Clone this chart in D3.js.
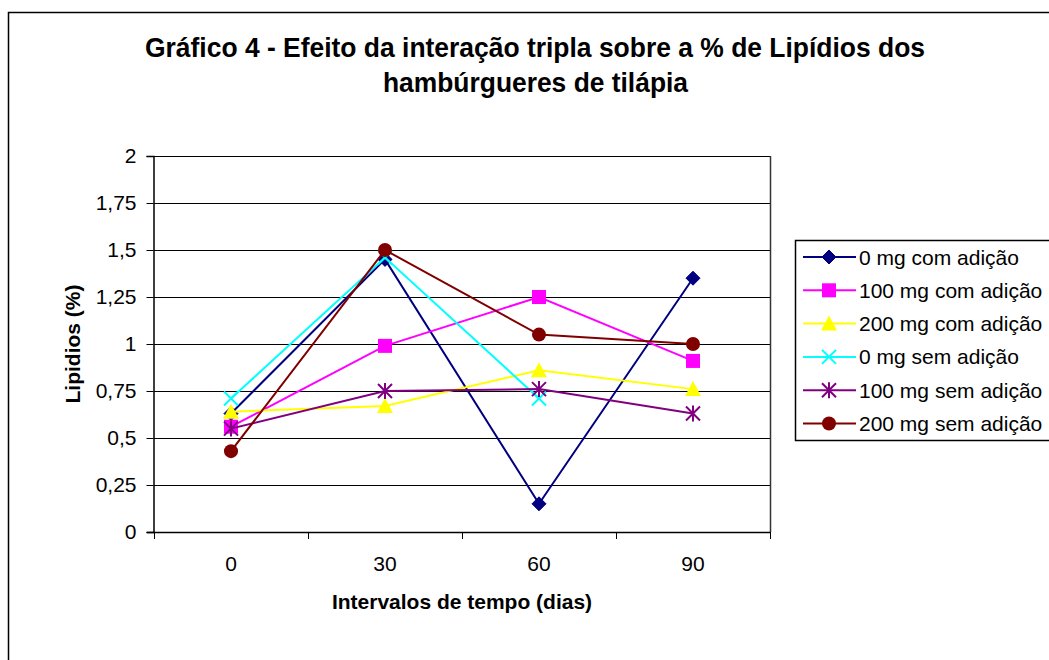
<!DOCTYPE html>
<html lang="pt">
<head>
<meta charset="utf-8">
<script src="https://cdn.jsdelivr.net/npm/d3@7"></script>
<style>
  html, body { margin: 0; padding: 0; background: #fff; }
  svg { display: block; font-family: Arial, "Liberation Sans", sans-serif; }
</style>
</head>
<body>
<svg id="chart" width="1049" height="660"></svg>
<script>
// Intervalos de tempo (dias)
const categories = ["0", "30", "60", "90"];

// % de lipídios por tratamento
const seriesNames = [
  "0 mg com adição",
  "100 mg com adição",
  "200 mg com adição",
  "0 mg sem adição",
  "100 mg sem adição",
  "200 mg sem adição"
];
const mg0Com   = [0.63, 1.45, 0.15, 1.35];
const mg100Com = [0.56, 0.99, 1.25, 0.91];
const mg200Com = [0.64, 0.67, 0.86, 0.76];
const mg0Sem   = [0.71, 1.46, 0.71, null];
const mg100Sem = [0.55, 0.75, 0.76, 0.63];
const mg200Sem = [0.43, 1.50, 1.05, 1.00];

const yTicks = [0, 0.25, 0.5, 0.75, 1, 1.25, 1.5, 1.75, 2];

const seriesValues = [mg0Com, mg100Com, mg200Com, mg0Sem, mg100Sem, mg200Sem];
const colors = ["#000080", "#FF00FF", "#FFFF00", "#00FFFF", "#800080", "#800000"];
const markers = ["diamond", "square", "triangle", "x", "asterisk", "circle"];

const svg = d3.select("#chart");

// Outer chart frame (only top and left edges fall inside the canvas)
svg.append("path")
  .attr("d", "M8.5,660 V12.5 H1049")
  .attr("fill", "none").attr("stroke", "#000").attr("stroke-width", 1.5);

// Title (narrow, tall glyphs)
const title = svg.append("text")
  .attr("text-anchor", "middle")
  .attr("font-weight", "bold")
  .attr("font-size", 28)
  .attr("fill", "#000");
title.append("tspan").attr("x", 535).attr("y", 57)
  .attr("textLength", 780).attr("lengthAdjust", "spacingAndGlyphs")
  .text("Gráfico 4 - Efeito da interação tripla sobre a % de Lipídios dos");
title.append("tspan").attr("x", 535.5).attr("y", 92)
  .attr("textLength", 305).attr("lengthAdjust", "spacingAndGlyphs")
  .text("hambúrgueres de tilápia");

// Plot area
const plot = { left: 154, right: 770, top: 156, bottom: 532 };
const x = d3.scaleBand().domain(categories).range([plot.left, plot.right]);
const y = d3.scaleLinear().domain([0, 2]).range([plot.bottom, plot.top]);
const cx = c => x(c) + x.bandwidth() / 2;

// Horizontal gridlines
svg.append("g").selectAll("line")
  .data(yTicks)
  .join("line")
  .attr("x1", plot.left).attr("x2", plot.right)
  .attr("y1", d => Math.round(y(d)) + 0.5).attr("y2", d => Math.round(y(d)) + 0.5)
  .attr("stroke", "#000").attr("stroke-width", 1);

// Right edge of plot area
svg.append("line")
  .attr("x1", plot.right + 0.5).attr("x2", plot.right + 0.5)
  .attr("y1", plot.top).attr("y2", plot.bottom)
  .attr("stroke", "#333").attr("stroke-width", 1.5);

// Y axis
const fmt = d => String(d).replace(".", ",");
const yAxis = svg.append("g")
  .attr("transform", `translate(${plot.left - 0.5},0)`)
  .call(d3.axisLeft(y).tickValues(yTicks).tickFormat(fmt).tickSize(7).tickPadding(10));
yAxis.select(".domain").attr("stroke", "#000").attr("stroke-width", 1.5);
yAxis.selectAll(".tick line").attr("stroke", "#000");
yAxis.selectAll(".tick text")
  .attr("font-size", 21).attr("fill", "#000")
  .attr("font-family", "Arial, 'Liberation Sans', sans-serif");

// X axis: ticks at category boundaries, labels at centres
const xAxis = svg.append("g");
xAxis.append("line")
  .attr("x1", plot.left - 7).attr("x2", plot.right)
  .attr("y1", plot.bottom + 0.5).attr("y2", plot.bottom + 0.5)
  .attr("stroke", "#000").attr("stroke-width", 1.5);
const bounds = categories.map(c => x(c)).concat([x(categories[categories.length - 1]) + x.bandwidth()]);
xAxis.selectAll("line.tick")
  .data(bounds)
  .join("line").attr("class", "tick")
  .attr("x1", d => Math.round(d) + 0.5).attr("x2", d => Math.round(d) + 0.5)
  .attr("y1", plot.bottom).attr("y2", plot.bottom + 7)
  .attr("stroke", "#000");
xAxis.selectAll("text")
  .data(categories)
  .join("text")
  .attr("x", d => cx(d)).attr("y", 571)
  .attr("text-anchor", "middle")
  .attr("font-size", 21).attr("fill", "#000")
  .text(d => d);

// Axis titles
svg.append("text")
  .attr("x", 462).attr("y", 609)
  .attr("text-anchor", "middle")
  .attr("font-weight", "bold").attr("font-size", 21)
  .text("Intervalos de tempo (dias)");
svg.append("text")
  .attr("transform", `translate(80,${(plot.top + plot.bottom) / 2}) rotate(-90)`)
  .attr("text-anchor", "middle")
  .attr("font-weight", "bold").attr("font-size", 21)
  .text("Lipidios (%)");

// Marker drawing
function drawMarker(g, type, color, px, py) {
  const s = 7;
  if (type === "diamond") {
    g.append("path").attr("d", `M${px},${py - s} L${px + s},${py} L${px},${py + s} L${px - s},${py} Z`)
      .attr("fill", color).attr("stroke", color);
  } else if (type === "square") {
    g.append("rect").attr("x", px - s).attr("y", py - s).attr("width", 2 * s).attr("height", 2 * s)
      .attr("fill", color);
  } else if (type === "triangle") {
    g.append("path").attr("d", `M${px},${py - s - 1} L${px + s + 1},${py + s} L${px - s - 1},${py + s} Z`)
      .attr("fill", color);
  } else if (type === "x") {
    g.append("path").attr("d", `M${px - s},${py - s} L${px + s},${py + s} M${px - s},${py + s} L${px + s},${py - s}`)
      .attr("stroke", color).attr("stroke-width", 2).attr("fill", "none");
  } else if (type === "asterisk") {
    g.append("path").attr("d", `M${px - s},${py - s} L${px + s},${py + s} M${px - s},${py + s} L${px + s},${py - s} M${px},${py - s - 1} L${px},${py + s + 1}`)
      .attr("stroke", color).attr("stroke-width", 2).attr("fill", "none");
  } else if (type === "circle") {
    g.append("circle").attr("cx", px).attr("cy", py).attr("r", s).attr("fill", color);
  }
}

// Series lines and markers
const line = d3.line()
  .defined(d => d.v !== null)
  .x(d => cx(d.c))
  .y(d => y(d.v));

seriesValues.forEach((vals, i) => {
  const pts = categories.map((c, j) => ({ c, v: vals[j] }));
  const g = svg.append("g");
  g.append("path")
    .datum(pts)
    .attr("d", line)
    .attr("fill", "none")
    .attr("stroke", colors[i])
    .attr("stroke-width", 2);
  pts.filter(p => p.v !== null).forEach(p => drawMarker(g, markers[i], colors[i], cx(p.c), y(p.v)));
});

// Legend
const legend = svg.append("g");
legend.append("rect")
  .attr("x", 795.5).attr("y", 240.5).attr("width", 300).attr("height", 200)
  .attr("fill", "#fff").attr("stroke", "#000").attr("stroke-width", 1.5);
seriesNames.forEach((name, i) => {
  const ly = 257 + i * 33.3;
  legend.append("line")
    .attr("x1", 803).attr("x2", 856).attr("y1", ly).attr("y2", ly)
    .attr("stroke", colors[i]).attr("stroke-width", 2);
  drawMarker(legend, markers[i], colors[i], 829, ly);
  legend.append("text")
    .attr("x", 859).attr("y", ly)
    .attr("dy", "0.36em")
    .attr("font-size", 21).attr("fill", "#000")
    .text(name);
});
</script>
</body>
</html>
